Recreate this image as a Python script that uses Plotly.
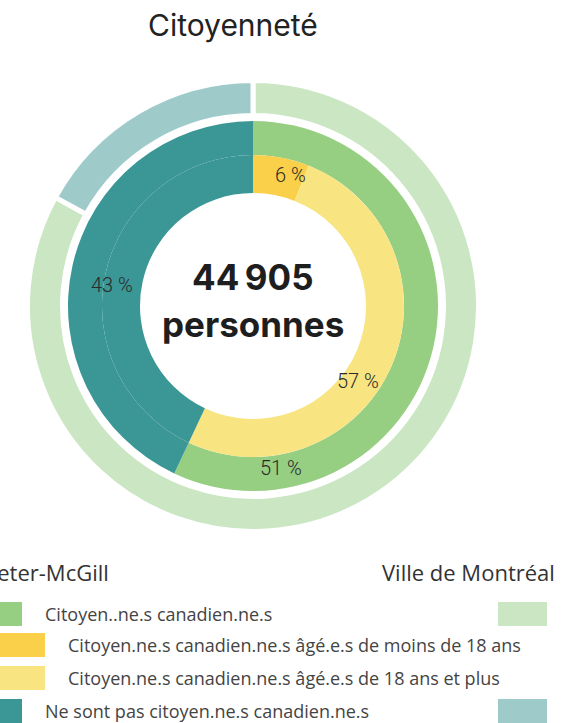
import plotly.graph_objects as go

W, H = 577, 723
OFF = 0  # body margin removed via post_script

# ---- data ----
title = "Citoyenneté"
total_text = "44\u2009905"
total_unit = "personnes"

inner_labels = ["Citoyen.ne.s canadien.ne.s âgé.e.s de moins de 18 ans",
                "Citoyen.ne.s canadien.ne.s âgé.e.s de 18 ans et plus",
                "Ne sont pas citoyen.ne.s canadien.ne.s"]
inner_values = [6, 51, 43]

middle_labels = ["Citoyen..ne.s canadien.ne.s", "Ne sont pas citoyen.ne.s canadien.ne.s"]
middle_values = [57, 43]

outer_labels = ["Citoyen.ne.s canadien.ne.s (Ville de Montréal)",
                "Ne sont pas citoyen.ne.s canadien.ne.s (Ville de Montréal)"]
outer_values = [83, 17]

value_labels = ["6 %", "57 %", "51 %", "43 %"]

legend_left_header = "Peter-McGill"
legend_right_header = "Ville de Montréal"
legend_rows = ["Citoyen..ne.s canadien.ne.s",
               "Citoyen.ne.s canadien.ne.s âgé.e.s de moins de 18 ans",
               "Citoyen.ne.s canadien.ne.s âgé.e.s de 18 ans et plus",
               "Ne sont pas citoyen.ne.s canadien.ne.s"]

# ---- styles ----
GREEN = "#96CE82"
LGREEN = "#CAE6C2"
TEAL = "#3A9795"
LTEAL = "#9ECBCA"
YELLOW = "#FAD04A"
LYELLOW = "#F8E480"

FONT = "Open Sans"
CX, CY = 253, 306


def fx(x):
    return (x - OFF) / W


def fy(y):
    return 1 - (y - OFF) / H


def dom(r):
    return dict(x=[fx(CX - r), fx(CX + r)], y=[fy(CY + r), fy(CY - r)])


fig = go.Figure()

gap = 5
r_out = 223 + gap / 2
fig.add_trace(go.Pie(values=outer_values, labels=outer_labels, sort=False,
                     direction="clockwise", rotation=0,
                     hole=(193 - gap / 2) / r_out, domain=dom(r_out),
                     marker=dict(colors=[LGREEN, LTEAL], line=dict(color="white", width=gap)),
                     textinfo="none", showlegend=False))
fig.add_trace(go.Pie(values=middle_values, labels=middle_labels, sort=False,
                     direction="clockwise", rotation=0,
                     hole=151 / 185, domain=dom(185),
                     marker=dict(colors=[GREEN, TEAL], line=dict(width=0)),
                     textinfo="none", showlegend=False))
fig.add_trace(go.Pie(values=inner_values, labels=inner_labels, sort=False,
                     direction="clockwise", rotation=0,
                     hole=113 / 151, domain=dom(151),
                     marker=dict(colors=[YELLOW, LYELLOW, TEAL], line=dict(width=0)),
                     textinfo="none", showlegend=False))

ann = []


def px(x, y, text, size, color="#333", xanchor="center", bold=False, family=FONT, weight=None):
    if bold:
        text = "<b>" + text + "</b>"
    f = dict(size=size, color=color, family=family)
    if weight:
        f["weight"] = weight
    ann.append(dict(x=fx(x), y=fy(y), xref="paper", yref="paper", text=text,
                    showarrow=False, xanchor=xanchor, yanchor="middle", font=f))


px(233, 25, title, 30, "#222", family="Inter")
px(253, 277, total_text, 35, "#1e1e1e", bold=True, family="Inter")
px(253, 324, total_unit, 35, "#1e1e1e", bold=True, family="Inter")

label_pos = [(290, 175), (358, 381), (281, 468), (112, 285)]
for (lx, ly), t in zip(label_pos, value_labels):
    px(lx, ly, t, 20, "#2a2a2a", family="Roboto", weight=300)

# legend
px(111, 572, legend_left_header, 22, "#333", xanchor="right")
px(557, 572, legend_right_header, 22, "#333", xanchor="right")
row_y = [614, 645, 678, 711]
row_x = [43, 66, 66, 43]
left_w = [22, 45, 45, 22]
left_c = [GREEN, YELLOW, LYELLOW, TEAL]
right_c = [LGREEN, None, None, LTEAL]
shapes = []
for i, t in enumerate(legend_rows):
    px(row_x[i], row_y[i], t, 18, "#444", xanchor="left")
    shapes.append(dict(type="rect", xref="paper", yref="paper",
                       x0=fx(-10), x1=fx(left_w[i]),
                       y0=fy(row_y[i] + 12), y1=fy(row_y[i] - 12),
                       fillcolor=left_c[i], line=dict(width=0)))
    if right_c[i]:
        shapes.append(dict(type="rect", xref="paper", yref="paper",
                           x0=fx(498), x1=fx(547),
                           y0=fy(row_y[i] + 12), y1=fy(row_y[i] - 12),
                           fillcolor=right_c[i], line=dict(width=0)))

fig.update_layout(width=W, height=H, margin=dict(l=0, r=0, t=0, b=0),
                  paper_bgcolor="white", plot_bgcolor="white",
                  annotations=ann, shapes=shapes, showlegend=False)

fig.write_html("out.html", config={"displayModeBar": False},
               post_script="document.body.style.margin='0';document.body.style.overflow='hidden';")
